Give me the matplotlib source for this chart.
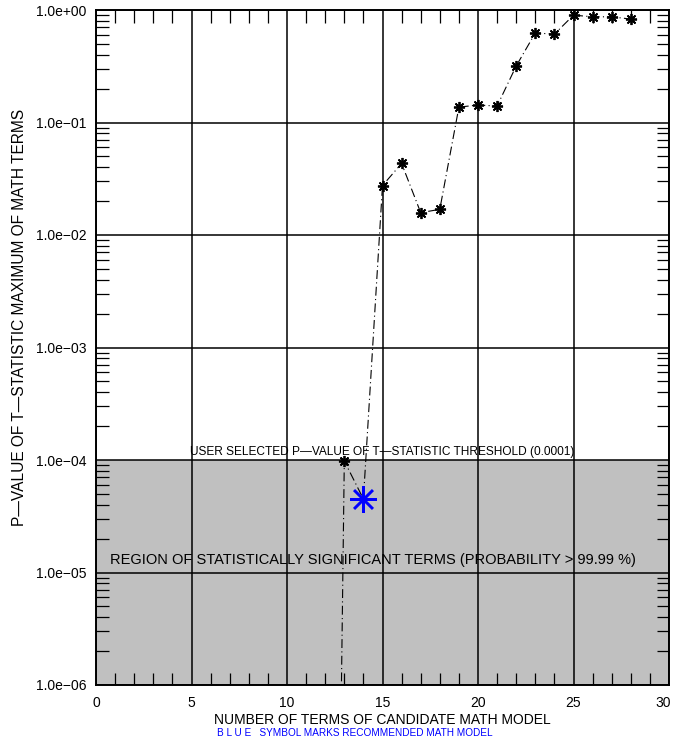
import matplotlib.pyplot as plt
import matplotlib.transforms as mtransforms
from matplotlib.ticker import FixedLocator, LogLocator, NullFormatter, FuncFormatter

plt.rcParams["font.family"] = ["Liberation Sans", "DejaVu Sans"]

# number of terms in candidate model vs p-value of max t-statistic
terms = [12, 13, 14, 15, 16, 17, 18, 19, 20, 21, 22, 23, 24, 25, 26, 27, 28]
pvals = [5e-18, 9.8e-5, 4.5e-5, 0.0275, 0.0433, 0.0158, 0.0169, 0.137, 0.143,
         0.140, 0.318, 0.625, 0.61, 0.90, 0.87, 0.87, 0.83]
best_terms = 14
best_pval = 4.5e-5
threshold = 1e-4

fig = plt.figure(figsize=(6.73, 7.47), dpi=100)
ax = fig.add_axes([96 / 673, 1 - 685 / 747, 573 / 673, 675 / 747])

ax.set_yscale("log")
ax.set_xlim(0, 30)
ax.set_ylim(1e-6, 1e0)

# significant region below threshold
ax.axhspan(1e-6, threshold, color="#c0c0c0", zorder=0, lw=0)

ax.plot(terms, pvals, color="black", lw=0.8, ls=(0, (8, 3, 1, 3)), zorder=2)
others = [(t, p) for t, p in zip(terms, pvals) if t != best_terms]
ax.plot([t for t, _ in others], [p for _, p in others], ls="none",
        marker=(8, 2, 0), ms=8, mew=1.3, color="black", zorder=3)
ax.plot([best_terms], [best_pval], ls="none", marker=(8, 2, 0), ms=19,
        mew=1.8, color="blue", zorder=4)

ax.xaxis.set_major_locator(FixedLocator([0, 5, 10, 15, 20, 25, 30]))
ax.xaxis.set_minor_locator(FixedLocator(range(0, 31)))
ax.yaxis.set_major_locator(LogLocator(base=10, numticks=10))
ax.yaxis.set_minor_locator(LogLocator(base=10, subs=range(2, 10), numticks=20))
ax.yaxis.set_minor_formatter(NullFormatter())
ax.yaxis.set_major_formatter(
    FuncFormatter(lambda v, _: f"{v:.1e}".replace("-", "\u2212")))

ax.grid(True, which="major", color="black", lw=1.1)
ax.tick_params(which="both", direction="in", top=True, right=True,
               labelsize=10, color="black")
ax.tick_params(which="major", length=0, width=1.1)
ax.tick_params(which="minor", length=9, width=0.9)
ax.tick_params(axis="x", which="major", pad=8)
ax.tick_params(axis="y", which="major", pad=7)
for s in ax.spines.values():
    s.set_linewidth(1.4)

# keep the last x label inside the figure edge
fig.canvas.draw()
last = ax.get_xticklabels()[-1]
last.set_transform(last.get_transform()
                   + mtransforms.ScaledTranslation(-6 / 100, 0, fig.dpi_scale_trans))

ax.set_xlabel("NUMBER OF TERMS OF CANDIDATE MATH MODEL", fontsize=10,
              labelpad=2)
ax.set_ylabel("P\u2014VALUE OF T\u2014STATISTIC MAXIMUM OF MATH TERMS",
              fontsize=11.2)
ax.yaxis.set_label_coords(-0.120, 0.545)

ax.text(15, threshold * 1.04, "USER SELECTED P\u2014VALUE OF T\u2014STATISTIC THRESHOLD (0.0001)",
        ha="center", va="bottom", fontsize=8.6, zorder=5)
ax.text(0.72, 1.12e-5, "REGION OF STATISTICALLY SIGNIFICANT TERMS (PROBABILITY > 99.99 %)",
        ha="left", va="bottom", fontsize=10.5, zorder=5)

fig.text(355 / 673, 1 - 733 / 747, "B L U E   SYMBOL MARKS RECOMMENDED MATH MODEL",
         color="blue", fontsize=7.2, ha="center", va="center")

fig.savefig("out.png", dpi=100)
